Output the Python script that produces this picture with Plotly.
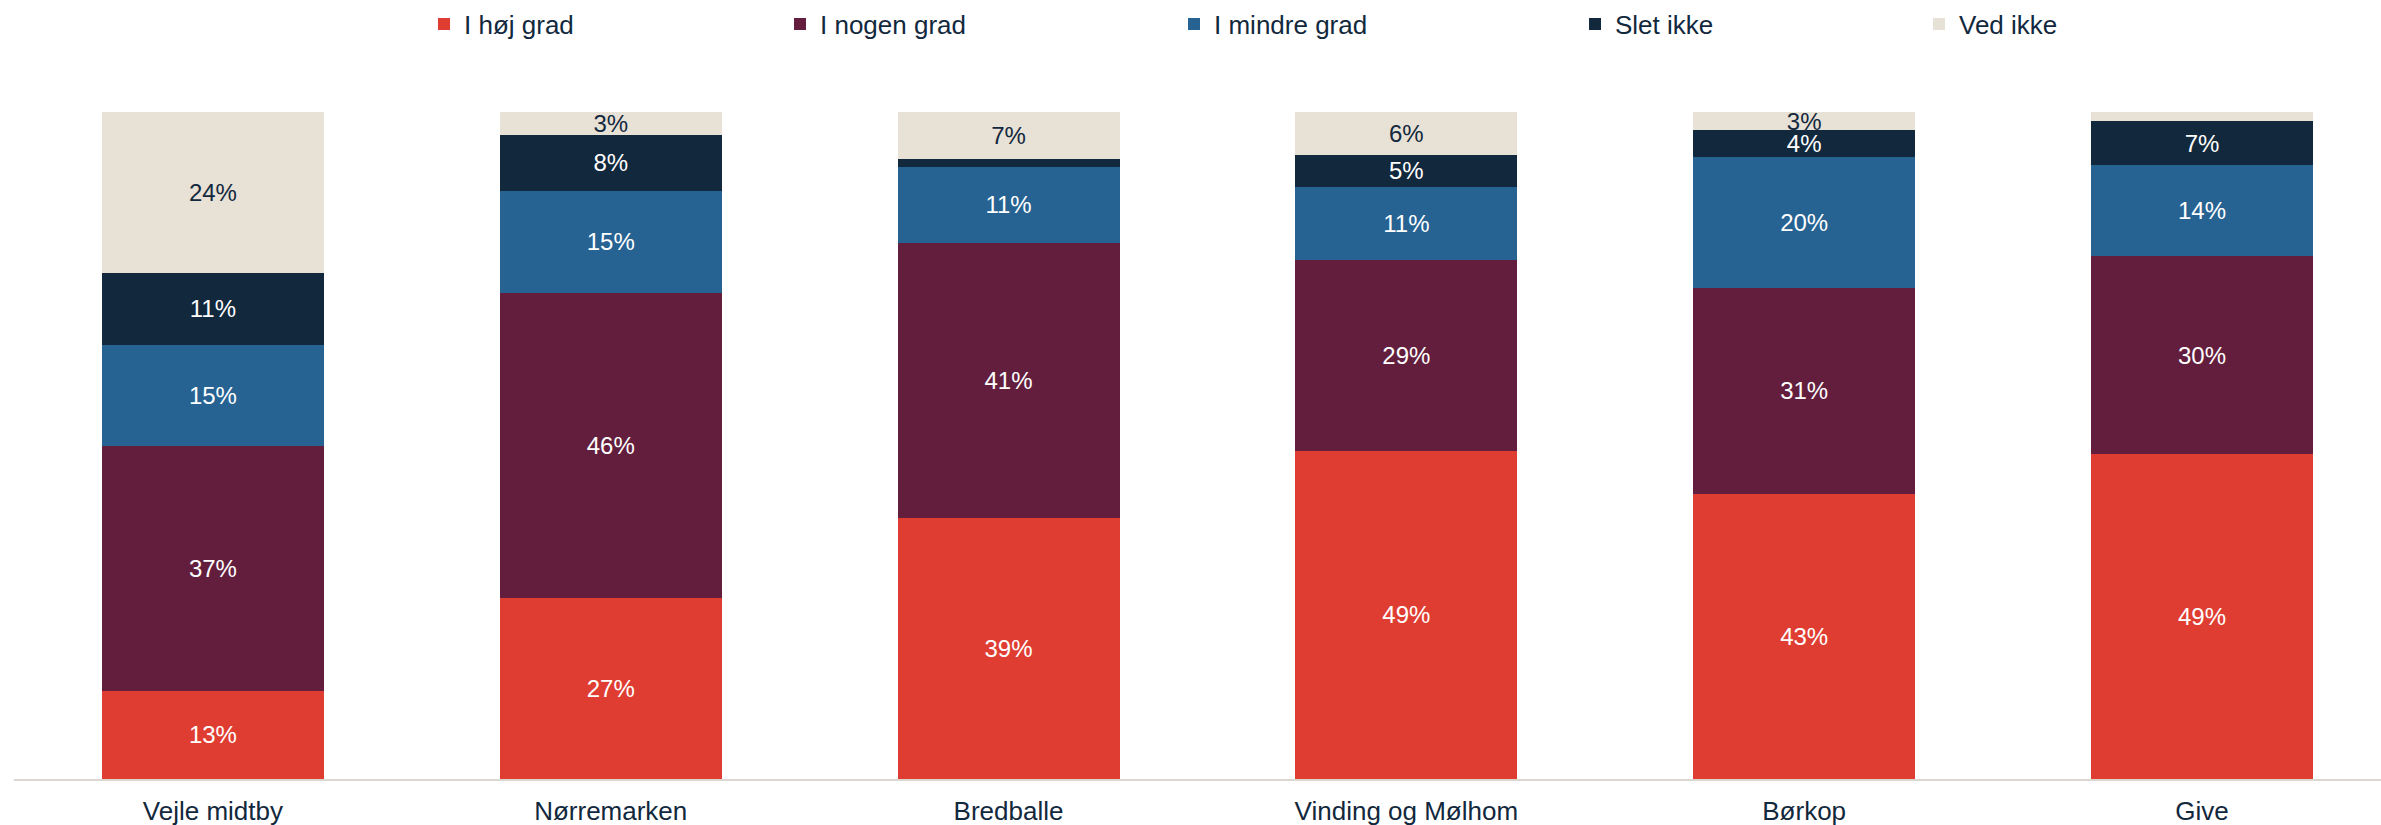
import plotly.graph_objects as go

categories = ["Vejle midtby", "Nørremarken", "Bredballe", "Vinding og Mølhom", "Børkop", "Give"]
series_names = ["I høj grad", "I nogen grad", "I mindre grad", "Slet ikke", "Ved ikke"]
hoj_grad = [13.2, 27.1, 39.2, 49.2, 42.8, 48.7]
nogen_grad = [36.7, 45.8, 41.2, 28.6, 30.8, 29.7]
mindre_grad = [15.2, 15.3, 11.4, 11.0, 19.6, 13.6]
slet_ikke = [10.8, 8.4, 1.1, 4.8, 4.1, 6.6]
ved_ikke = [24.1, 3.4, 7.1, 6.4, 2.7, 1.4]

colors = ["#E03D32", "#631E3D", "#266292", "#12283D", "#E7E1D6"]
text_colors = ["#FFFFFF", "#FFFFFF", "#FFFFFF", "#FFFFFF", "#12283D"]
legend_x_px = [424, 780, 1174, 1575, 1919]

W, H = 2381, 825
FONT = "Liberation Sans, Arial, sans-serif"

fig = go.Figure()
all_series = [hoj_grad, nogen_grad, mindre_grad, slet_ikke, ved_ikke]
for i, (name, vals) in enumerate(zip(series_names, all_series)):
    labels = [f"{round(v)}%" if v >= 2 else "" for v in vals]
    lg = "legend" if i == 0 else f"legend{i+1}"
    fig.add_trace(go.Bar(
        x=categories, y=vals, name=name,
        marker=dict(color=colors[i], line=dict(width=0)),
        text=labels, textposition="inside", insidetextanchor="middle",
        constraintext="none",
        textfont=dict(color=text_colors[i], size=24, family=FONT),
        legend=lg, showlegend=True,
    ))

layout_legends = {}
for i in range(5):
    key = "legend" if i == 0 else f"legend{i+1}"
    layout_legends[key] = dict(
        x=legend_x_px[i] / W, xref="container", xanchor="left",
        y=1 - 24 / H, yref="container", yanchor="middle",
        orientation="h", itemwidth=30,
        font=dict(size=26, color="#12283D", family=FONT),
        bgcolor="rgba(0,0,0,0)",
    )

fig.update_layout(
    width=W, height=H,
    barmode="stack", bargap=0.442,
    showlegend=True,
    plot_bgcolor="white", paper_bgcolor="white",
    margin=dict(l=14, r=0, t=112, b=46),
    font=dict(family=FONT, color="#12283D"),
    **layout_legends,
)
fig.update_xaxes(
    range=[-0.5, 5.45], showline=True, linecolor="#DCD7CE", linewidth=2,
    showgrid=False, ticks="", ticklabelstandoff=8,
    tickfont=dict(size=26, color="#12283D", family=FONT),
    fixedrange=True,
)
fig.update_yaxes(range=[0, 100], visible=False, showgrid=False, fixedrange=True)

fig.write_html("out.html", config={"displayModeBar": False},
               post_script="document.body.style.margin='0';")
